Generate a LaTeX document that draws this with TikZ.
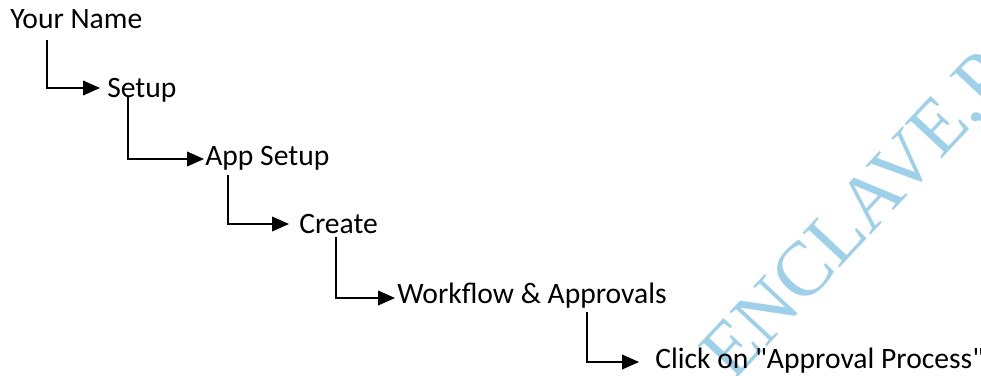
\documentclass[tikz,border=0pt]{standalone}
\usepackage{fontspec}
\setmainfont{Carlito}
\newfontfamily\wmfont{Liberation Serif}
\usetikzlibrary{arrows.meta,calc}
\definecolor{wmblue}{RGB}{158,208,234}
\begin{document}
\begin{tikzpicture}[>={Triangle[length=12.75pt,width=11pt]}, x=0.75pt, y=-0.75pt,
  menuitem/.style={inner sep=0pt, anchor=base west, font=\fontsize{22.2}{26}\selectfont},
  link/.style={->, line width=1.3pt}]
\useasboundingbox (0,0) rectangle (981,375);
% watermark behind everything
\begin{scope}
\clip (0,0) rectangle (981,375);
\node[wmblue, inner sep=0pt, anchor=base west, rotate=47,
  font=\wmfont\fontsize{58}{60}\selectfont] (wm) at (733,383) {ENCLAVE,P};
\end{scope}
% menu path, one level per row
\node[menuitem] (name) at (10,28) {Your Name};
\node[menuitem] (setup) at (107,97) {Setup};
\node[menuitem] (appsetup) at (205,165) {App Setup};
\node[menuitem] (create) at (299,233) {Create};
\node[menuitem] (workflow) at (397,303) {Workflow \& Approvals};
\node[menuitem] (click) at (655,368) {Click on \textquotedbl Approval Process\textquotedbl};
% elbow arrows
\draw[link] ($(name.base west)+(37,12)$) |- ($(setup.base west)+(-7,-9)$);
\draw[link] ($(setup.base west)+(21,0)$) |- ($(appsetup.base west)+(-1,-6)$);
\draw[link] ($(appsetup.base west)+(23,10)$) |- ($(create.base west)+(-10,-9)$);
\draw[link] ($(create.base west)+(37,4)$) |- ($(workflow.base west)+(-2,-5)$);
\draw[link] ($(workflow.base west)+(190,9)$) |- ($(click.base west)+(-16,-6)$);
\end{tikzpicture}
\end{document}
